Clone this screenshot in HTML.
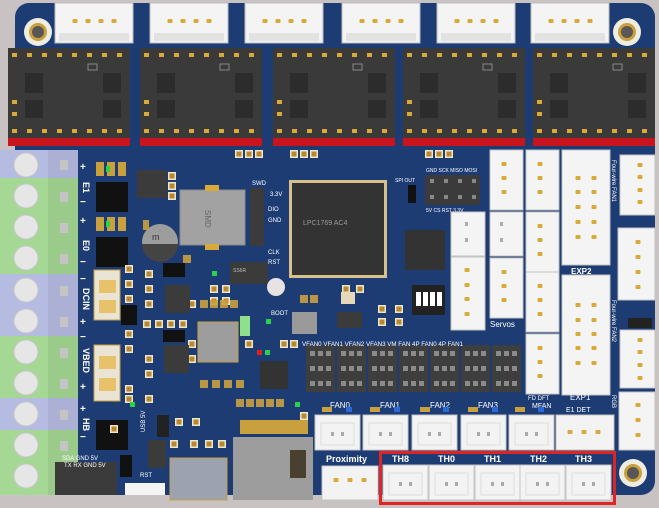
<!DOCTYPE html>
<html><head><meta charset="utf-8"><style>
html,body{margin:0;padding:0;background:#c8c2c2;}
svg{display:block;font-family:"Liberation Sans",sans-serif;}
</style></head><body>
<svg width="659" height="508" viewBox="0 0 659 508" xmlns="http://www.w3.org/2000/svg">
<defs>
<g id="dot"><rect x="-2.5" y="-2" width="5" height="4" rx="1" fill="#d9a93a"/></g>
<g id="con4"><rect x="0" y="0" width="78" height="40" fill="#f4f4f4" stroke="#bdbdbd"/><rect x="4" y="30" width="70" height="8" fill="#e2e2e2"/><use href="#dot" x="20" y="18"/><use href="#dot" x="33" y="18"/><use href="#dot" x="46" y="18"/><use href="#dot" x="59" y="18"/></g>
<g id="drv">
<rect x="0" y="0" width="122" height="92" fill="#3a3a3a"/>
<rect x="0" y="90" width="122" height="8" fill="#c8141c"/>
<g fill="#d9a93a">
<rect x="4" y="5" width="5" height="4"/><rect x="19" y="5" width="5" height="4"/><rect x="34" y="5" width="5" height="4"/><rect x="49" y="5" width="5" height="4"/><rect x="64" y="5" width="5" height="4"/><rect x="79" y="5" width="5" height="4"/><rect x="94" y="5" width="5" height="4"/><rect x="109" y="5" width="5" height="4"/>
<rect x="4" y="81" width="5" height="4"/><rect x="19" y="81" width="5" height="4"/><rect x="34" y="81" width="5" height="4"/><rect x="49" y="81" width="5" height="4"/><rect x="64" y="81" width="5" height="4"/><rect x="79" y="81" width="5" height="4"/><rect x="94" y="81" width="5" height="4"/><rect x="109" y="81" width="5" height="4"/>
<rect x="4" y="52" width="5" height="4"/><rect x="4" y="64" width="5" height="4"/>
</g>
<rect x="17" y="25" width="18" height="20" fill="#2c2c2c"/><rect x="95" y="25" width="18" height="20" fill="#2c2c2c"/>
<rect x="17" y="52" width="18" height="18" fill="#2c2c2c"/><rect x="95" y="52" width="18" height="18" fill="#2c2c2c"/>
<rect x="80" y="16" width="9" height="6" fill="none" stroke="#888" stroke-width="1"/>
</g>
<g id="hole"><circle r="14" fill="#efece2"/><circle r="9" fill="#c9a03e"/><circle r="6" fill="#5b5656"/></g>
<g id="v3"><rect x="0" y="0" width="33" height="60" fill="#f4f4f4" stroke="#c4c4c4"/><use href="#dot" x="14" y="14"/><use href="#dot" x="14" y="28"/><use href="#dot" x="14" y="42"/></g>
<g id="fan"><rect x="0" y="0" width="45" height="35" fill="#f3f3f3" stroke="#c4c4c4"/><rect x="6" y="8" width="33" height="22" fill="none" stroke="#dcdcdc"/><rect x="16" y="17" width="3" height="4" fill="#aaa"/><rect x="26" y="17" width="3" height="4" fill="#aaa"/></g>
<g id="hdr"><rect x="0" y="0" width="29" height="47" fill="#3e3e3e"/><g fill="#8a8a8a"><rect x="4" y="6" width="5" height="5"/><rect x="12" y="6" width="5" height="5"/><rect x="20" y="6" width="5" height="5"/><rect x="4" y="21" width="5" height="5"/><rect x="12" y="21" width="5" height="5"/><rect x="20" y="21" width="5" height="5"/><rect x="4" y="36" width="5" height="5"/><rect x="12" y="36" width="5" height="5"/><rect x="20" y="36" width="5" height="5"/></g></g>
<g id="pad3"><rect x="0" y="0" width="8" height="8" fill="#eee6c8"/><rect x="1.5" y="1.5" width="5" height="5" fill="#b8862e"/></g>
</defs>

<rect width="659" height="508" fill="#c8c2c2"/>
<rect x="15" y="3" width="640" height="492" rx="14" fill="#1d3c74"/>

<use href="#con4" x="55" y="3"/><use href="#con4" x="150" y="3"/><use href="#con4" x="245" y="3"/>
<use href="#con4" x="342" y="3"/><use href="#con4" x="437" y="3"/><use href="#con4" x="531" y="3"/>
<use href="#hole" x="38" y="32"/><use href="#hole" x="627" y="32"/>
<use href="#hole" x="40" y="470"/><use href="#hole" x="633" y="473"/>

<use href="#drv" x="8" y="48"/><use href="#drv" x="140" y="48"/><use href="#drv" x="273" y="48"/>
<use href="#drv" x="403" y="48"/><use href="#drv" x="533" y="48"/>

<rect x="0" y="150" width="78" height="28" fill="#b6bbe2"/>
<rect x="0" y="178" width="78" height="96" fill="#a5d894"/>
<rect x="0" y="274" width="78" height="62" fill="#b6bbe2"/>
<rect x="0" y="336" width="78" height="62" fill="#a5d894"/>
<rect x="0" y="398" width="78" height="32" fill="#b6bbe2"/>
<rect x="0" y="430" width="78" height="65" fill="#a5d894"/>
<rect x="48" y="150" width="30" height="345" fill="#000" opacity="0.06"/>
<g fill="#e6e6e6" stroke="#c8c8c8">
<circle cx="26" cy="165" r="12"/><circle cx="26" cy="196" r="12"/><circle cx="26" cy="227" r="12"/><circle cx="26" cy="258" r="12"/>
<circle cx="26" cy="290" r="12"/><circle cx="26" cy="321" r="12"/><circle cx="26" cy="352" r="12"/><circle cx="26" cy="383" r="12"/>
<circle cx="26" cy="414" r="12"/><circle cx="26" cy="445" r="12"/><circle cx="26" cy="476" r="12"/>
</g>
<g fill="#c4c4c4"><rect x="60" y="160" width="8" height="10"/><rect x="60" y="192" width="8" height="10"/><rect x="60" y="223" width="8" height="10"/><rect x="60" y="254" width="8" height="10"/><rect x="60" y="286" width="8" height="10"/><rect x="60" y="317" width="8" height="10"/><rect x="60" y="348" width="8" height="10"/><rect x="60" y="379" width="8" height="10"/><rect x="60" y="410" width="8" height="10"/><rect x="60" y="441" width="8" height="10"/><rect x="60" y="472" width="8" height="10"/></g>

<g fill="#fff" font-size="10" font-weight="bold">
<text x="80" y="170">+</text><text x="80" y="205">−</text><text x="80" y="224">+</text><text x="80" y="265">−</text>
<text x="80" y="282">−</text><text x="80" y="325">+</text><text x="80" y="340">−</text><text x="80" y="390">+</text><text x="80" y="412">+</text><text x="80" y="440">−</text>
<text transform="translate(83,182) rotate(90)" font-size="9">E1</text>
<text transform="translate(83,240) rotate(90)" font-size="9">E0</text>
<text transform="translate(83,288) rotate(90)" font-size="9">DCIN</text>
<text transform="translate(83,348) rotate(90)" font-size="9">VBED</text>
<text transform="translate(83,418) rotate(90)" font-size="9">HB</text>
</g>

<g fill="#111"><rect x="96" y="182" width="32" height="30"/><rect x="96" y="237" width="32" height="30"/><rect x="96" y="420" width="32" height="30"/><rect x="121" y="305" width="16" height="20"/></g>
<g fill="#e9e4d4"><rect x="94" y="270" width="26" height="50" stroke="#c9a03e"/><rect x="94" y="345" width="26" height="56" stroke="#c9a03e"/></g>
<g fill="#e8c26a"><rect x="99" y="280" width="17" height="13"/><rect x="99" y="300" width="17" height="13"/><rect x="99" y="356" width="17" height="13"/><rect x="99" y="378" width="17" height="13"/></g>
<g fill="#c9a03e"><rect x="96" y="162" width="8" height="14"/><rect x="107" y="162" width="8" height="14"/><rect x="118" y="162" width="8" height="14"/><rect x="96" y="217" width="8" height="14"/><rect x="107" y="217" width="8" height="14"/><rect x="118" y="217" width="8" height="14"/></g>
<rect x="106" y="166" width="4" height="6" fill="#2cd14a"/><rect x="106" y="221" width="4" height="6" fill="#2cd14a"/>

<!-- scattered pads -->
<use href="#pad3" x="125" y="265"/><use href="#pad3" x="125" y="280"/><use href="#pad3" x="125" y="295"/>
<use href="#pad3" x="125" y="330"/><use href="#pad3" x="125" y="345"/><use href="#pad3" x="125" y="385"/><use href="#pad3" x="125" y="395"/>
<use href="#pad3" x="145" y="270"/><use href="#pad3" x="145" y="285"/><use href="#pad3" x="145" y="300"/><use href="#pad3" x="145" y="355"/><use href="#pad3" x="145" y="370"/><use href="#pad3" x="145" y="395"/>
<use href="#pad3" x="143" y="320"/><use href="#pad3" x="155" y="320"/><use href="#pad3" x="167" y="320"/><use href="#pad3" x="179" y="320"/>
<use href="#pad3" x="168" y="172"/><use href="#pad3" x="168" y="182"/><use href="#pad3" x="168" y="192"/>
<use href="#pad3" x="210" y="285"/><use href="#pad3" x="210" y="297"/><use href="#pad3" x="222" y="285"/><use href="#pad3" x="222" y="297"/>
<use href="#pad3" x="188" y="300"/><use href="#pad3" x="188" y="340"/><use href="#pad3" x="188" y="355"/>
<use href="#pad3" x="245" y="340"/><use href="#pad3" x="280" y="340"/><use href="#pad3" x="290" y="340"/>
<use href="#pad3" x="170" y="440"/><use href="#pad3" x="190" y="440"/><use href="#pad3" x="205" y="440"/><use href="#pad3" x="218" y="440"/>
<use href="#pad3" x="110" y="425"/><use href="#pad3" x="175" y="418"/><use href="#pad3" x="192" y="418"/>
<use href="#pad3" x="300" y="412"/><use href="#pad3" x="342" y="285"/><use href="#pad3" x="356" y="285"/>
<use href="#pad3" x="378" y="305"/><use href="#pad3" x="378" y="318"/><use href="#pad3" x="395" y="305"/><use href="#pad3" x="395" y="318"/>
<use href="#pad3" x="235" y="150"/><use href="#pad3" x="245" y="150"/><use href="#pad3" x="255" y="150"/><use href="#pad3" x="290" y="150"/><use href="#pad3" x="300" y="150"/><use href="#pad3" x="310" y="150"/>
<use href="#pad3" x="425" y="150"/><use href="#pad3" x="435" y="150"/><use href="#pad3" x="445" y="150"/>

<rect x="137" y="170" width="30" height="28" fill="#3b3b3b"/>
<rect x="180" y="190" width="65" height="55" fill="#a2a2a2" stroke="#8a8a8a"/>
<rect x="205" y="185" width="14" height="6" fill="#d9a93a"/><rect x="205" y="244" width="14" height="6" fill="#d9a93a"/>
<text transform="translate(205,210) rotate(90)" font-size="8" fill="#666">SMD</text>
<circle cx="160" cy="242" r="18" fill="#9d9d9d"/><path d="M142 244 A18 18 0 0 0 178 244 Z" fill="#444"/>
<text x="152" y="240" font-size="9" fill="#333">m</text>
<rect x="163" y="263" width="22" height="14" fill="#111"/>
<rect x="165" y="285" width="25" height="28" fill="#3b3b3b"/>
<rect x="164" y="345" width="25" height="28" fill="#3b3b3b"/>
<rect x="163" y="330" width="22" height="12" fill="#111"/>
<rect x="198" y="322" width="40" height="40" fill="#9d9d9d" stroke="#c9a03e"/>
<rect x="230" y="262" width="38" height="22" fill="#3b3b3b"/>
<text x="233" y="272" font-size="5" fill="#bbb">SS6R</text>
<rect x="240" y="316" width="10" height="20" fill="#8fe08a"/>
<circle cx="276" cy="287" r="9" fill="#e8e3e3"/>
<rect x="292" y="312" width="25" height="22" fill="#9a9a9a"/>
<rect x="260" y="361" width="28" height="28" fill="#333"/>
<rect x="257" y="350" width="5" height="5" fill="#e02020"/><rect x="265" y="350" width="5" height="5" fill="#2cd14a"/>
<rect x="266" y="319" width="5" height="5" fill="#2cd14a"/>
<rect x="130" y="402" width="5" height="5" fill="#2cd14a"/><rect x="295" y="402" width="5" height="5" fill="#2cd14a"/>
<rect x="212" y="271" width="5" height="5" fill="#2cd14a"/>
<g fill="#c9a03e" opacity="0.9">
<rect x="143" y="220" width="6" height="10"/><rect x="183" y="255" width="8" height="8"/><rect x="200" y="300" width="8" height="8"/><rect x="210" y="300" width="8" height="8"/><rect x="220" y="300" width="8" height="8"/><rect x="230" y="300" width="8" height="8"/>
<rect x="200" y="380" width="8" height="8"/><rect x="212" y="380" width="8" height="8"/><rect x="224" y="380" width="8" height="8"/><rect x="236" y="380" width="8" height="8"/>
<rect x="236" y="399" width="8" height="8"/><rect x="246" y="399" width="8" height="8"/><rect x="256" y="399" width="8" height="8"/><rect x="266" y="399" width="8" height="8"/><rect x="276" y="399" width="8" height="8"/>
<rect x="300" y="295" width="8" height="8"/><rect x="310" y="295" width="8" height="8"/>
</g>
<rect x="250" y="188" width="14" height="58" fill="#3b3b3b"/>
<g fill="#fff" font-size="6"><text x="252" y="185">SWD</text><text x="270" y="196">3.3V</text><text x="268" y="211">DIO</text><text x="268" y="222">GND</text><text x="268" y="254">CLK</text><text x="268" y="264">RST</text><text x="271" y="315">BOOT</text></g>

<rect x="289" y="180" width="98" height="98" fill="#d8c08a"/>
<rect x="292" y="183" width="92" height="92" fill="#333"/>
<text x="303" y="225" font-size="7" fill="#999">LPC1769 AC4</text>

<rect x="425" y="175" width="55" height="30" fill="#3b3b3b"/>
<g fill="#888"><rect x="430" y="179" width="4" height="4"/><rect x="444" y="179" width="4" height="4"/><rect x="458" y="179" width="4" height="4"/><rect x="472" y="179" width="4" height="4"/><rect x="430" y="195" width="4" height="4"/><rect x="444" y="195" width="4" height="4"/><rect x="458" y="195" width="4" height="4"/><rect x="472" y="195" width="4" height="4"/></g>
<text x="426" y="172" font-size="5" fill="#fff">GND SCK MISO MOSI</text>
<text x="426" y="212" font-size="5" fill="#fff">5V  CS  RST 3.3V</text>
<text x="395" y="182" font-size="5" fill="#fff">SPI OUT</text>
<rect x="408" y="185" width="8" height="18" fill="#111"/>
<rect x="405" y="230" width="40" height="40" fill="#333"/>
<rect x="412" y="285" width="33" height="30" fill="#222"/>
<g fill="#fff"><rect x="416" y="292" width="5" height="14"/><rect x="423" y="292" width="5" height="14"/><rect x="430" y="292" width="5" height="14"/><rect x="437" y="292" width="5" height="14"/></g>
<rect x="341" y="292" width="14" height="12" fill="#e6d8b8"/>
<rect x="337" y="312" width="25" height="16" fill="#3b3b3b"/>

<use href="#hdr" x="306" y="345"/><use href="#hdr" x="337" y="345"/><use href="#hdr" x="368" y="345"/><use href="#hdr" x="399" y="345"/>
<use href="#hdr" x="430" y="345"/><use href="#hdr" x="461" y="345"/><use href="#hdr" x="492" y="345"/>
<text x="302" y="346" font-size="6.2" fill="#fff">VFAN0 VFAN1 VFAN2 VFAN3 VM FAN 4P FAN0 4P FAN1</text>

<use href="#v3" x="490" y="150"/><use href="#v3" x="526" y="150"/>
<rect x="490" y="212" width="33" height="44" fill="#f4f4f4" stroke="#c4c4c4"/><rect x="500" y="222" width="3" height="4" fill="#aaa"/><rect x="500" y="238" width="3" height="4" fill="#aaa"/>
<rect x="451" y="212" width="34" height="44" fill="#f4f4f4" stroke="#c4c4c4"/><rect x="465" y="222" width="3" height="4" fill="#aaa"/><rect x="465" y="238" width="3" height="4" fill="#aaa"/>
<rect x="451" y="257" width="34" height="73" fill="#f4f4f4" stroke="#c4c4c4"/>
<use href="#dot" x="467" y="270"/><use href="#dot" x="467" y="285"/><use href="#dot" x="467" y="299"/><use href="#dot" x="467" y="314"/>
<use href="#v3" x="490" y="258"/><text x="490" y="327" font-size="8" fill="#fff">Servos</text>
<use href="#v3" x="526" y="212"/><use href="#v3" x="526" y="272"/><use href="#v3" x="526" y="334"/>
<rect x="562" y="150" width="48" height="115" fill="#f4f4f4" stroke="#c4c4c4"/>
<rect x="562" y="275" width="48" height="120" fill="#f4f4f4" stroke="#c4c4c4"/>
<g>
<use href="#dot" x="578" y="178"/><use href="#dot" x="594" y="178"/><use href="#dot" x="578" y="192"/><use href="#dot" x="594" y="192"/><use href="#dot" x="578" y="207"/><use href="#dot" x="594" y="207"/><use href="#dot" x="578" y="222"/><use href="#dot" x="594" y="222"/><use href="#dot" x="578" y="237"/><use href="#dot" x="594" y="237"/>
<use href="#dot" x="578" y="305"/><use href="#dot" x="594" y="305"/><use href="#dot" x="578" y="320"/><use href="#dot" x="594" y="320"/><use href="#dot" x="578" y="334"/><use href="#dot" x="594" y="334"/><use href="#dot" x="578" y="348"/><use href="#dot" x="594" y="348"/><use href="#dot" x="578" y="363"/><use href="#dot" x="594" y="363"/>
</g>
<text x="571" y="274" font-size="8" fill="#fff" font-weight="bold">EXP2</text>
<rect x="620" y="155" width="35" height="60" fill="#f4f4f4" stroke="#c4c4c4"/>
<use href="#dot" x="640" y="165"/><use href="#dot" x="640" y="177"/><use href="#dot" x="640" y="190"/><use href="#dot" x="640" y="202"/>
<rect x="618" y="228" width="37" height="72" fill="#f4f4f4" stroke="#c4c4c4"/>
<use href="#dot" x="638" y="242"/><use href="#dot" x="638" y="257"/><use href="#dot" x="638" y="272"/><use href="#dot" x="638" y="287"/>
<rect x="628" y="318" width="24" height="10" fill="#222"/>
<rect x="620" y="330" width="35" height="58" fill="#f4f4f4" stroke="#c4c4c4"/>
<use href="#dot" x="640" y="340"/><use href="#dot" x="640" y="352"/><use href="#dot" x="640" y="365"/><use href="#dot" x="640" y="378"/>
<rect x="619" y="392" width="36" height="58" fill="#f4f4f4" stroke="#c4c4c4"/>
<use href="#dot" x="638" y="405"/><use href="#dot" x="638" y="420"/><use href="#dot" x="638" y="435"/>
<g fill="#fff" font-size="6"><text transform="translate(612,160) rotate(90)">Four-wire FAN1</text><text transform="translate(612,300) rotate(90)">Four-wire FAN2</text><text transform="translate(612,395) rotate(90)">RGB</text></g>

<g fill="#fff" font-size="8"><text x="330" y="408">FAN0</text><text x="380" y="408">FAN1</text><text x="430" y="408">FAN2</text><text x="478" y="408">FAN3</text>
<text x="528" y="400" font-size="6">FD DFT</text><text x="532" y="408" font-size="7">MFAN</text><text x="570" y="400">EXP1</text><text x="566" y="412" font-size="7">E1  DET</text></g>
<g fill="#c9a03e"><rect x="322" y="407" width="10" height="5"/><rect x="370" y="407" width="10" height="5"/><rect x="420" y="407" width="10" height="5"/><rect x="468" y="407" width="10" height="5"/><rect x="515" y="407" width="10" height="5"/></g>
<g fill="#2a6ad8"><rect x="346" y="407" width="6" height="5"/><rect x="394" y="407" width="6" height="5"/><rect x="443" y="407" width="6" height="5"/><rect x="492" y="407" width="6" height="5"/><rect x="538" y="407" width="6" height="5"/></g>
<use href="#fan" x="315" y="415"/><use href="#fan" x="363" y="415"/><use href="#fan" x="412" y="415"/><use href="#fan" x="461" y="415"/><use href="#fan" x="509" y="415"/>
<rect x="556" y="415" width="58" height="35" fill="#f3f3f3" stroke="#c4c4c4"/>
<use href="#dot" x="570" y="432"/><use href="#dot" x="584" y="432"/><use href="#dot" x="598" y="432"/>

<rect x="322" y="466" width="56" height="34" fill="#f3f3f3" stroke="#c4c4c4"/>
<use href="#dot" x="336" y="480"/><use href="#dot" x="350" y="480"/><use href="#dot" x="364" y="480"/>
<text x="326" y="462" font-size="9" fill="#fff" font-weight="bold">Proximity</text>
<use href="#fan" x="383" y="465"/><use href="#fan" x="429" y="465"/><use href="#fan" x="475" y="465"/><use href="#fan" x="520" y="465"/><use href="#fan" x="566" y="465"/>
<g fill="#fff" font-size="9" font-weight="bold"><text x="392" y="462">TH8</text><text x="438" y="462">TH0</text><text x="484" y="462">TH1</text><text x="530" y="462">TH2</text><text x="575" y="462">TH3</text></g>
<rect x="380.5" y="452.5" width="234" height="51" fill="none" stroke="#e02424" stroke-width="3"/>

<rect x="233" y="437" width="80" height="63" fill="#9d9d9d"/>
<rect x="240" y="420" width="68" height="14" fill="#c9a03e"/>
<rect x="290" y="450" width="16" height="28" fill="#4a4030"/>
<rect x="170" y="458" width="57" height="42" fill="#9da2b0" stroke="#c9a03e"/>
<rect x="125" y="483" width="40" height="12" fill="#f4f4f4"/>
<rect x="55" y="462" width="62" height="33" fill="#3b3b3b"/>
<rect x="148" y="440" width="18" height="28" fill="#3b3b3b"/>
<rect x="157" y="415" width="12" height="22" fill="#222"/>
<rect x="120" y="455" width="12" height="22" fill="#111"/>
<g fill="#fff" font-size="6"><text x="62" y="460">SDA GND 5V</text><text x="64" y="467">TX  RX GND 5V</text><text x="140" y="477">RST</text><text transform="translate(145,432) rotate(-90)">USB 5V</text></g>
</svg>
</body></html>
